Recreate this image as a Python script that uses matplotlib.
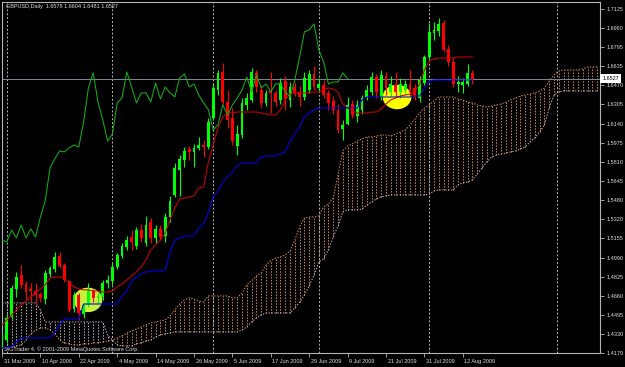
import matplotlib.pyplot as plt
import matplotlib.transforms as mtransforms
from matplotlib.patches import Ellipse
import numpy as np

plt.rcParams['font.family'] = ['Liberation Sans', 'DejaVu Sans']

# GBPUSD daily bars, 31 Mar 2009 .. 14 Aug 2009
opens = [1.4240, 1.4282, 1.4475, 1.4720, 1.4841, 1.4760, 1.4720, 1.4705, 1.4680, 1.4630,
         1.4845, 1.4890, 1.5003, 1.4926, 1.4790, 1.4545, 1.4668, 1.4505, 1.4585, 1.4705,
         1.4640, 1.4655, 1.4771, 1.4790, 1.4909, 1.5000, 1.5081, 1.5167, 1.5089, 1.5227,
         1.5115, 1.5296, 1.5158, 1.5236, 1.5176, 1.5339, 1.5528, 1.5743, 1.5828, 1.5923,
         1.5897, 1.5931, 1.5957, 1.5940, 1.6189, 1.6429, 1.6584, 1.6326, 1.6189, 1.5949,
         1.6043, 1.6301, 1.6344, 1.6576, 1.6429, 1.6318, 1.6421, 1.6404, 1.6344, 1.6507,
         1.6344, 1.6455, 1.6413, 1.6370, 1.6429, 1.6567, 1.6447, 1.6472, 1.6404, 1.6335,
         1.6258, 1.6090, 1.6140, 1.6309, 1.6206, 1.6258, 1.6370, 1.6413, 1.6541, 1.6370,
         1.6550, 1.6413, 1.6472, 1.6413, 1.6429, 1.6481, 1.6447, 1.6361, 1.6490, 1.6713,
         1.6919, 1.6937, 1.7005, 1.6782, 1.6670, 1.6481, 1.6472, 1.6481, 1.6578]
highs = [1.4330, 1.4505, 1.4755, 1.4866, 1.4926, 1.4790, 1.4770, 1.4770, 1.4695, 1.4883,
         1.4920, 1.5038, 1.5038, 1.4943, 1.4800, 1.4694, 1.4685, 1.4600, 1.4771, 1.4720,
         1.4694, 1.4797, 1.4840, 1.4952, 1.5029, 1.5115, 1.5175, 1.5227, 1.5253, 1.5279,
         1.5347, 1.5330, 1.5270, 1.5270, 1.5373, 1.5519, 1.5803, 1.5871, 1.5940, 1.5949,
         1.5966, 1.6026, 1.6000, 1.6189, 1.6481, 1.6601, 1.6661, 1.6429, 1.6275, 1.6129,
         1.6361, 1.6404, 1.6619, 1.6601, 1.6472, 1.6429, 1.6584, 1.6429, 1.6533, 1.6550,
         1.6498, 1.6498, 1.6464, 1.6584, 1.6601, 1.6636, 1.6533, 1.6515, 1.6429, 1.6380,
         1.6309, 1.6170, 1.6369, 1.6344, 1.6344, 1.6386, 1.6472, 1.6584, 1.6567, 1.6601,
         1.6584, 1.6550, 1.6584, 1.6533, 1.6515, 1.6601, 1.6481, 1.6550, 1.6730, 1.7005,
         1.7014, 1.7048, 1.7031, 1.6816, 1.6704, 1.6550, 1.6533, 1.6653, 1.6604]
lows = [1.4210, 1.4256, 1.4460, 1.4650, 1.4729, 1.4625, 1.4610, 1.4585, 1.4605, 1.4590,
        1.4820, 1.4866, 1.4900, 1.4780, 1.4522, 1.4522, 1.4453, 1.4471, 1.4565, 1.4608,
        1.4591, 1.4625, 1.4728, 1.4754, 1.4895, 1.4986, 1.5055, 1.5055, 1.5064, 1.5124,
        1.5089, 1.5115, 1.5115, 1.5141, 1.5124, 1.5296, 1.5511, 1.5519, 1.5768, 1.5828,
        1.5768, 1.5914, 1.5854, 1.5923, 1.6172, 1.6386, 1.6301, 1.6103, 1.5957, 1.5871,
        1.6017, 1.6258, 1.6326, 1.6413, 1.6275, 1.6292, 1.6232, 1.6292, 1.6309, 1.6258,
        1.6284, 1.6378, 1.6292, 1.6344, 1.6404, 1.6429, 1.6412, 1.6361, 1.6258, 1.6220,
        1.6060, 1.6000, 1.6129, 1.6189, 1.6155, 1.6224, 1.6344, 1.6386, 1.6361, 1.6344,
        1.6386, 1.6378, 1.6370, 1.6361, 1.6395, 1.6378, 1.6344, 1.6326, 1.6472, 1.6687,
        1.6859, 1.6894, 1.6756, 1.6636, 1.6455, 1.6413, 1.6404, 1.6464, 1.6481]
closes = [1.4290, 1.4471, 1.4729, 1.4823, 1.4755, 1.4690, 1.4700, 1.4665, 1.4640, 1.4857,
          1.4900, 1.4995, 1.4917, 1.4797, 1.4539, 1.4668, 1.4514, 1.4582, 1.4711, 1.4642,
          1.4660, 1.4771, 1.4797, 1.4909, 1.5012, 1.5089, 1.5141, 1.5124, 1.5227, 1.5158,
          1.5270, 1.5158, 1.5236, 1.5167, 1.5339, 1.5476, 1.5760, 1.5837, 1.5906, 1.5897,
          1.5931, 1.5957, 1.5940, 1.6155, 1.6447, 1.6576, 1.6326, 1.6172, 1.5991, 1.6052,
          1.6318, 1.6361, 1.6584, 1.6455, 1.6318, 1.6404, 1.6404, 1.6326, 1.6490, 1.6352,
          1.6455, 1.6404, 1.6370, 1.6533, 1.6567, 1.6455, 1.6481, 1.6386, 1.6318, 1.6260,
          1.6086, 1.6130, 1.6301, 1.6215, 1.6301, 1.6361, 1.6429, 1.6541, 1.6413, 1.6558,
          1.6447, 1.6481, 1.6413, 1.6481, 1.6481, 1.6413, 1.6370, 1.6515, 1.6713, 1.6928,
          1.6945, 1.6997, 1.6773, 1.6670, 1.6481, 1.6498, 1.6498, 1.6576, 1.6527]

# Ichimoku lines
tenkan = [1.4411, 1.4454, 1.4497, 1.4540, 1.4583, 1.4617, 1.4652, 1.4686, 1.4720, 1.4755,
          1.4815, 1.4823, 1.4823, 1.4815, 1.4772, 1.4738, 1.4720, 1.4712, 1.4712, 1.4703,
          1.4703, 1.4694, 1.4694, 1.4703, 1.4738, 1.4763, 1.4798, 1.4832, 1.4866, 1.4909,
          1.4969, 1.5055, 1.5098, 1.5141, 1.5201, 1.5313, 1.5416, 1.5493, 1.5502, 1.5511,
          1.5519, 1.5588, 1.5597, 1.5811, 1.5957, 1.6103, 1.6198, 1.6232, 1.6232, 1.6240,
          1.6240, 1.6240, 1.6240, 1.6240, 1.6232, 1.6223, 1.6215, 1.6215, 1.6258, 1.6344,
          1.6395, 1.6404, 1.6404, 1.6404, 1.6404, 1.6412, 1.6412, 1.6429, 1.6447, 1.6438,
          1.6412, 1.6309, 1.6275, 1.6249, 1.6232, 1.6232, 1.6232, 1.6240, 1.6240, 1.6266,
          1.6309, 1.6344, 1.6361, 1.6378, 1.6386, 1.6395, 1.6412, 1.6481, 1.6601, 1.6679,
          1.6696, 1.6704, 1.6704, 1.6704, 1.6704, 1.6713, 1.6713, 1.6713, 1.6713]
kijun = [1.4213, 1.4213, 1.4222, 1.4265, 1.4299, 1.4299, 1.4299, 1.4299, 1.4299, 1.4299,
         1.4308, 1.4342, 1.4411, 1.4463, 1.4463, 1.4463, 1.4463, 1.4591, 1.4591, 1.4591,
         1.4591, 1.4591, 1.4591, 1.4591, 1.4591, 1.4660, 1.4703, 1.4789, 1.4823, 1.4849,
         1.4866, 1.4875, 1.4875, 1.4875, 1.4883, 1.5038, 1.5141, 1.5158, 1.5175, 1.5175,
         1.5175, 1.5244, 1.5279, 1.5382, 1.5511, 1.5562, 1.5639, 1.5683, 1.5725, 1.5777,
         1.5803, 1.5803, 1.5803, 1.5803, 1.5854, 1.5863, 1.5863, 1.5863, 1.5880, 1.5897,
         1.5991, 1.6052, 1.6112, 1.6198, 1.6232, 1.6258, 1.6275, 1.6275, 1.6275, 1.6275,
         1.6275, 1.6275, 1.6275, 1.6275, 1.6275, 1.6344, 1.6369, 1.6369, 1.6369, 1.6369,
         1.6369, 1.6369, 1.6369, 1.6369, 1.6369, 1.6369, 1.6378, 1.6378, 1.6447, 1.6507,
         1.6515, 1.6515, 1.6515, 1.6515, 1.6515, 1.6515, 1.6515, 1.6515, 1.6515]
span_a = [1.4213, 1.4213, 1.4222, 1.4231, 1.4239, 1.4282, 1.4334, 1.4368, 1.4385, 1.4385,
          1.4368, 1.4334, 1.4282, 1.4257, 1.4248, 1.4239, 1.4239, 1.4248, 1.4248, 1.4257,
          1.4257, 1.4265, 1.4274, 1.4282, 1.4299, 1.4317,
          1.4342, 1.4360, 1.4377, 1.4394, 1.4411, 1.4428, 1.4437, 1.4445, 1.4454, 1.4488,
          1.4540, 1.4591, 1.4626, 1.4643, 1.4634, 1.4617, 1.4608, 1.4660, 1.4660, 1.4660,
          1.4660, 1.4660, 1.4643, 1.4643, 1.4686, 1.4755, 1.4789, 1.4832, 1.4858, 1.4926,
          1.4961, 1.4986, 1.4995, 1.5012, 1.5046, 1.5141, 1.5253, 1.5330, 1.5339, 1.5339,
          1.5347, 1.5425, 1.5450, 1.5502, 1.5700, 1.5906, 1.5948, 1.5966, 1.5991, 1.6009,
          1.6026, 1.6026, 1.6034, 1.6043, 1.6043, 1.6034, 1.6052, 1.6069, 1.6086, 1.6129,
          1.6180, 1.6232, 1.6275, 1.6301, 1.6335, 1.6369, 1.6369, 1.6369, 1.6369, 1.6352,
          1.6344, 1.6326, 1.6318, 1.6301, 1.6292, 1.6283, 1.6292, 1.6301, 1.6309, 1.6326,
          1.6344, 1.6361, 1.6378, 1.6386, 1.6395, 1.6404, 1.6421, 1.6447, 1.6507, 1.6558,
          1.6593, 1.6601, 1.6601, 1.6601, 1.6601, 1.6610, 1.6627, 1.6627, 1.6627]
span_b = [1.4600, 1.4600, 1.4600, 1.4600, 1.4600, 1.4600, 1.4600, 1.4600, 1.4540, 1.4437,
          1.4437, 1.4437, 1.4437, 1.4437, 1.4437, 1.4437, 1.4437, 1.4437, 1.4437, 1.4437,
          1.4437, 1.4437, 1.4325, 1.4282, 1.4239, 1.4231,
          1.4231, 1.4231, 1.4248, 1.4257, 1.4274, 1.4282, 1.4308, 1.4325, 1.4334, 1.4342,
          1.4351, 1.4351, 1.4351, 1.4351, 1.4351, 1.4351, 1.4351, 1.4351, 1.4351, 1.4351,
          1.4351, 1.4351, 1.4351, 1.4351, 1.4368, 1.4394, 1.4437, 1.4471, 1.4497, 1.4514,
          1.4514, 1.4514, 1.4514, 1.4514, 1.4514, 1.4557, 1.4608, 1.4669, 1.4746, 1.4841,
          1.4952, 1.4978, 1.5055, 1.5167, 1.5261, 1.5382, 1.5399, 1.5399, 1.5399, 1.5407,
          1.5442, 1.5467, 1.5493, 1.5511, 1.5519, 1.5528, 1.5528, 1.5528, 1.5528, 1.5528,
          1.5528, 1.5528, 1.5528, 1.5536, 1.5562, 1.5571, 1.5571, 1.5571, 1.5571, 1.5614,
          1.5631, 1.5639, 1.5657, 1.5708, 1.5760, 1.5811, 1.5854, 1.5871, 1.5880, 1.5888,
          1.5897, 1.5906, 1.5923, 1.5940, 1.5983, 1.6017, 1.6069, 1.6129, 1.6275, 1.6386,
          1.6412, 1.6421, 1.6421, 1.6421, 1.6421, 1.6421, 1.6421, 1.6421, 1.6421]

date_labels = ['31 Mar 2009', '10 Apr 2009', '22 Apr 2009', '4 May 2009', '14 May 2009',
               '26 May 2009', '5 Jun 2009', '17 Jun 2009', '29 Jun 2009', '9 Jul 2009',
               '21 Jul 2009', '31 Jul 2009', '12 Aug 2009']
price_ticks = [1.7125, 1.6960, 1.6795, 1.6635, 1.6470, 1.6305, 1.6140, 1.5975, 1.5810,
               1.5645, 1.5480, 1.5320, 1.5155, 1.4990, 1.4825, 1.4660, 1.4495, 1.4330, 1.4170]
month_starts = [1, 23, 44, 66, 89, 115.6]      # period separators (bar index)
ellipses = [(17.9, 1.4626, '#c8f03c'), (82.3, 1.6369, '#ffff00')]  # drawn marks

o, h, l, c = (np.array(v) for v in (opens, highs, lows, closes))
x = np.arange(len(c))

fig = plt.figure(figsize=(6.25, 3.67), dpi=100, facecolor='black')
ax = fig.add_axes([2 / 625, 14 / 367, 598 / 625, 351 / 367], facecolor='black')

# cloud: dotted histogram between span A and span B
xc = np.arange(len(span_a))
a = np.array(span_a)
b = np.array(span_b)
bull = a >= b
dots = (0, (1.5, 1.5))
ax.vlines(xc[bull], b[bull], a[bull], colors='#d08a50', linestyles=dots, lw=0.7, zorder=1)
ax.vlines(xc[~bull], a[~bull], b[~bull], colors='#c0aac0', linestyles=dots, lw=0.7, zorder=1)
ax.plot(xc, a, color='#d08a50', lw=0.7, ls=dots, zorder=1)
ax.plot(xc, b, color='#c0aac0', lw=0.7, ls=dots, zorder=1)

for m in month_starts:
    ax.axvline(m, color='#b4b4b4', lw=0.7, ls=(0, (2, 2)), zorder=1.5)
ax.axhline(c[-1], color='#7b8a9c', lw=0.7, zorder=1.5)

for cx, cy, col in ellipses:
    ax.add_patch(Ellipse((cx, cy), 6.0, 0.021, facecolor=col, edgecolor='none', zorder=2))

# candles
up = c >= o
cols = np.where(up, '#00ff00', '#ff0000')
ax.vlines(x, l, h, colors=cols, lw=0.8, zorder=3)
body = np.maximum(np.abs(c - o), 0.0004)
ax.bar(x, body, bottom=np.minimum(o, c), width=0.62, color=cols, linewidth=0, zorder=3)

# tenkan, kijun, chikou
ax.plot(x, tenkan, color='#cc0000', lw=0.75, zorder=4)
ax.plot(x, kijun, color='#0000ee', lw=0.75, zorder=4)
ax.plot(x[:len(c) - 26], c[26:], color='#12b012', lw=0.75, zorder=4)

ax.set_xlim(0, 124.58)
ax.set_ylim(1.4170, 1.7185)

ax.yaxis.tick_right()
ax.set_yticks(price_ticks)
ax.set_yticklabels([f'{p:.4f}' for p in price_ticks])
ax.set_xticks(range(0, len(c), 8))
ax.set_xticklabels(date_labels)
ax.tick_params(colors='#b4b4b4', labelcolor='#dcdcdc', labelsize=4, length=3, width=0.6)
ax.tick_params(axis='y', pad=1.5)
ax.tick_params(axis='x', pad=1.5)
shift = mtransforms.ScaledTranslation(1.5 / 100, 0, fig.dpi_scale_trans)
for lab in ax.get_xticklabels():
    lab.set_horizontalalignment('left')
    lab.set_transform(lab.get_transform() + shift)
for sp in ax.spines.values():
    sp.set_color('#b4b4b4')
    sp.set_linewidth(0.8)

trans = mtransforms.blended_transform_factory(ax.transAxes, ax.transData)
ax.text(1.004, c[-1], f'{c[-1]:.4f}', transform=trans, fontsize=4, color='black',
        va='center', ha='left', clip_on=False, zorder=10,
        bbox=dict(boxstyle='square,pad=0.35', facecolor='white', edgecolor='none'))

ax.text(0.007, 0.995, f'GBPUSD,Daily  {o[-1]:.4f} {h[-1]:.4f} {l[-1]:.4f} {c[-1]:.4f}',
        transform=ax.transAxes, fontsize=4, color='#dcdcdc', va='top', ha='left')
ax.text(0.004, 0.004, 'SIGTrader 4, \u00a9 2001-2009 MetaQuotes Software Corp.',
        transform=ax.transAxes, fontsize=4, color='#dcdcdc', va='bottom', ha='left')

fig.savefig('out.png', dpi=100, facecolor='black')
